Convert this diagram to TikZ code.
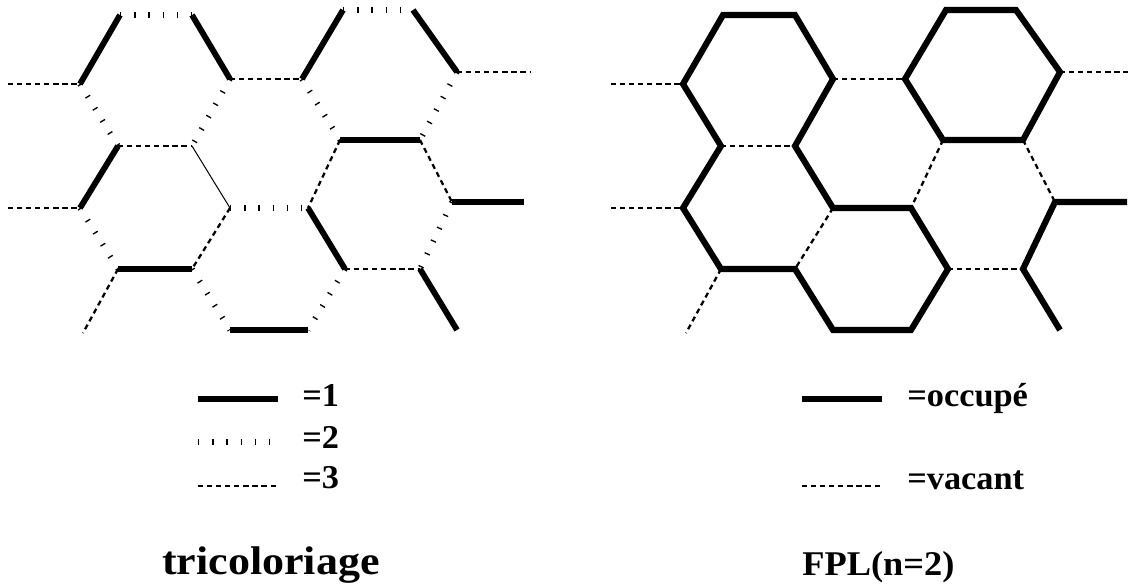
\documentclass[tikz,border=0pt]{standalone}
\usepackage{fontspec}
\setmainfont{Liberation Serif}
\tikzset{
  one/.style={line width=4.4pt, line cap=butt},
  two/.style={line width=4.2pt, line cap=butt, dash pattern=on 1.0pt off 9.65pt},
  three/.style={line width=1.7pt, line cap=butt, dash pattern=on 3.9pt off 2.9pt},
  thinl/.style={line width=0.75pt},
  occ/.style={line width=4.6pt, line join=miter, line cap=butt},
  vac/.style={three},
  lab/.style={anchor=base west, inner sep=0pt},
}
\newcommand{\hexverts}[1]{%
  \coordinate (#1l1) at (8,84);
  \coordinate (#1a1) at (120,15);
  \coordinate (#1a2) at (192,15);
  \coordinate (#1b1) at (343,10);
  \coordinate (#1b2) at (413,10);
  \coordinate (#1c0) at (80,84);
  \coordinate (#1c1) at (230,79);
  \coordinate (#1c2) at (302,79);
  \coordinate (#1c3) at (457,72);
  \coordinate (#1r1) at (530,72);
  \coordinate (#1d1) at (118,146);
  \coordinate (#1d2) at (192,146);
  \coordinate (#1d3) at (340,140);
  \coordinate (#1d4) at (420,140);
  \coordinate (#1l2) at (8,208);
  \coordinate (#1e0) at (80,208);
  \coordinate (#1e1) at (230,208);
  \coordinate (#1e2) at (308,208);
  \coordinate (#1e3) at (452,202);
  \coordinate (#1r2) at (524,202);
  \coordinate (#1f1) at (118,269);
  \coordinate (#1f2) at (192,269);
  \coordinate (#1f3) at (345,269);
  \coordinate (#1f4) at (420,269);
  \coordinate (#1g1) at (230,330);
  \coordinate (#1g2) at (308,330);
  \coordinate (#1h1) at (83,333);
  \coordinate (#1h2) at (457,330);
}
\newcommand{\legtext}[1]{\scalebox{1.03}[1]{\fontsize{25}{25}\selectfont\bfseries #1}}
\begin{document}
\begin{tikzpicture}[x=0.75pt,y=-0.75pt]
\useasboundingbox (0,0) rectangle (1128,586);
\hexverts{L}
\begin{scope}[xshift=452.25pt]
\hexverts{R}
\end{scope}

% ---------- left: tricoloriage ----------
\draw[three] (Ll1) -- (Lc0);
\draw[one] (Lc0) -- (La1);
\draw[two] (La1) -- (La2);
\draw[one] (La2) -- (Lc1);
\draw[three] (Lc1) -- (Lc2);
\draw[one] (Lc2) -- (Lb1);
\draw[two] (Lb1) -- (Lb2);
\draw[one] (Lb2) -- (Lc3);
\draw[three] (Lc3) -- (Lr1);
\draw[two] (Lc0) -- (Ld1);
\draw[two] (Lc1) -- (Ld2);
\draw[two] (Lc2) -- (Ld3);
\draw[two] (Lc3) -- (Ld4);
\draw[three] (Ld1) -- (Ld2);
\draw[one] (Ld3) -- (Ld4);
\draw[one] (Ld1) -- (Le0);
\draw[thinl] (Ld2) -- (Le1);
\draw[three] (Ld3) -- (Le2);
\draw[three] (Ld4) -- (Le3);
\draw[three] (Ll2) -- (Le0);
\draw[two] (Le1) -- (Le2);
\draw[one] (Le3) -- (Lr2);
\draw[two] (Le0) -- (Lf1);
\draw[three] (Le1) -- (Lf2);
\draw[one] (Le2) -- (Lf3);
\draw[two] (Le3) -- (Lf4);
\draw[one] (Lf1) -- (Lf2);
\draw[three] (Lf3) -- (Lf4);
\draw[three] (Lf1) -- (Lh1);
\draw[two] (Lf2) -- (Lg1);
\draw[two] (Lf3) -- (Lg2);
\draw[one] (Lf4) -- (Lh2);
\draw[one] (Lg1) -- (Lg2);

% ---------- right: FPL ----------
\draw[vac] (Rl1) -- (Rc0);
\draw[vac] (Rc1) -- (Rc2);
\draw[vac] (Rc3) -- (Rr1);
\draw[vac] (Rd1) -- (Rd2);
\draw[vac] (Rd3) -- (Re2);
\draw[vac] (Rd4) -- (Re3);
\draw[vac] (Rl2) -- (Re0);
\draw[vac] (Re1) -- (Rf2);
\draw[vac] (Rf3) -- (Rf4);
\draw[vac] (Rf1) -- (Rh1);
\draw[occ] (Rc0) -- (Ra1) -- (Ra2) -- (Rc1) -- (Rd2) -- (Re1) -- (Re2) -- (Rf3)
  -- (Rg2) -- (Rg1) -- (Rf2) -- (Rf1) -- (Re0) -- (Rd1) -- cycle;
\draw[occ] (Rc2) -- (Rb1) -- (Rb2) -- (Rc3) -- (Rd4) -- (Rd3) -- cycle;
\draw[occ] (Rr2) -- (Re3) -- (Rf4) -- (Rh2);

% ---------- legends ----------
\coordinate (k1a) at (198,399); \coordinate (k1b) at (278,399);
\coordinate (k2a) at (198,442); \coordinate (k2b) at (272,442);
\coordinate (k3a) at (198,486); \coordinate (k3b) at (277,486);
\draw[one] (k1a) -- (k1b);
\draw[two] (k2a) -- (k2b);
\draw[three] (k3a) -- (k3b);
\node[lab] (t1) at (302,406) {\legtext{=1}};
\node[lab] (t2) at (302,448) {\legtext{=2}};
\node[lab] (t3) at (302,488) {\legtext{=3}};

\coordinate (m1a) at (802,399); \coordinate (m1b) at (882,399);
\coordinate (m2a) at (802,486); \coordinate (m2b) at (882,486);
\draw[occ] (m1a) -- (m1b);
\draw[vac] (m2a) -- (m2b);
\node[lab] (u1) at (907,406) {\legtext{=occupé}};
\node[lab] (u2) at (907,489) {\legtext{=vacant}};

\node[lab] (title1) at (162,574) {\scalebox{1.1}[1]{\fontsize{30}{30}\selectfont\bfseries tricoloriage}};
\node[lab] (title2) at (802,575) {\scalebox{1.05}[1]{\fontsize{26}{26}\selectfont\bfseries FPL(n=2)}};
\end{tikzpicture}
\end{document}
